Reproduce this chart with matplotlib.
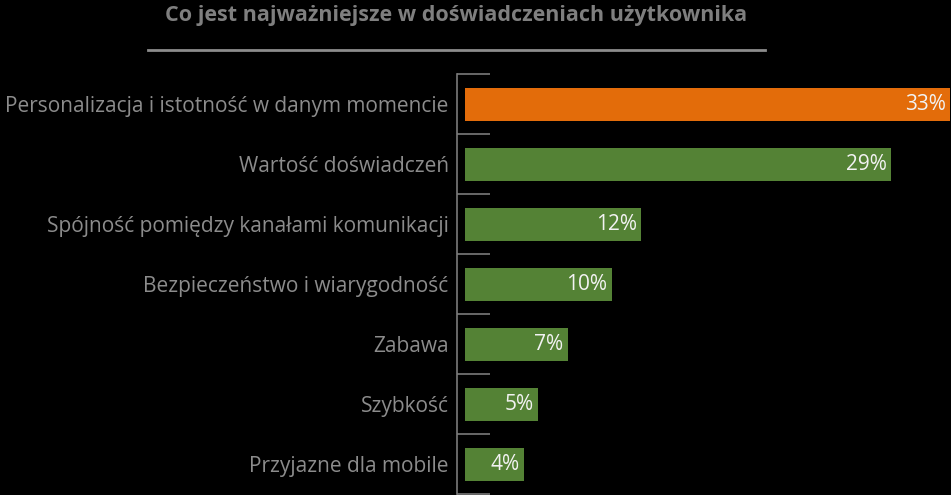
import matplotlib.pyplot as plt
import numpy as np

categories = [
    "Personalizacja i istotność w danym momencie",
    "Wartość doświadczeń",
    "Spójność pomiędzy kanałami komunikacji",
    "Bezpieczeństwo i wiarygodność",
    "Zabawa",
    "Szybkość",
    "Przyjazne dla mobile",
]
values = [33, 29, 12, 10, 7, 5, 4]
value_labels = ["33%", "29%", "12%", "10%", "7%", "5%", "4%"]
title = "Co jest najważniejsze w doświadczeniach użytkownika"

plt.rcParams['font.family'] = ['Open Sans', 'DejaVu Sans']

fig = plt.figure(figsize=(9.51, 4.95), dpi=100)
fig.patch.set_facecolor('black')

# plot area: left spine at x=457px, rows 74..494px
ax = fig.add_axes([457 / 951, 1 / 495, 494 / 951, 420 / 495])
ax.set_facecolor('black')

y = np.arange(len(categories))
colors = ['#E36C0A'] + ['#548235'] * (len(categories) - 1)
bars = ax.barh(y, values, height=0.55, color=colors)

for bar, lab in zip(bars, value_labels):
    ax.text(bar.get_width() - 0.3, bar.get_y() + bar.get_height() / 2, lab,
            ha='right', va='center', color='#f2f2f2', fontsize=15)

ax.set_ylim(len(categories) - 0.5, -0.5)
ax.set_xlim(-0.54, 33.06)

ax.set_yticks(y)
ax.set_yticklabels(categories, fontsize=15, color='#8c8c8c')
ax.tick_params(axis='y', which='major', length=0, pad=6)
ax.set_yticks(np.arange(-0.5, len(categories)), minor=True)
ax.tick_params(axis='y', which='minor', direction='in', length=24,
               color='#7a7a7a', width=1.2)
ax.set_xticks([])

for s in ['top', 'right', 'bottom']:
    ax.spines[s].set_visible(False)
ax.spines['left'].set_color('#7a7a7a')
ax.spines['left'].set_linewidth(1.2)

fig.text(456 / 951, 1 - 15 / 495, title, ha='center', va='center',
         fontsize=15.5, fontweight='bold', color='#7f7f7f')
fig.add_artist(plt.Line2D([148 / 951, 765 / 951], [1 - 50 / 495, 1 - 50 / 495],
                          color='#8c8c8c', linewidth=2))

fig.savefig('out.png', dpi=100, facecolor='black')
